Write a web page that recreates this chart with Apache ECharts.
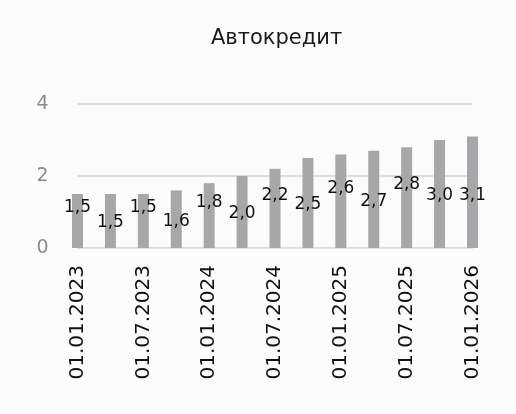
<!DOCTYPE html>
<html style="height: 100%">
<head>
    <meta charset="utf-8">
    <title>Автокредит</title>
    <script src="https://cdn.jsdelivr.net/npm/echarts@6/dist/echarts.min.js"></script>
    <style>
        html, body { margin: 0; height: 100%; background: #fcfcfc; }
        #chart { width: 516px; height: 414px; }
    </style>
</head>
<body>
<div id="chart"></div>
<script>
    var dates = ['01.01.2023', '01.04.2023', '01.07.2023', '01.10.2023', '01.01.2024', '01.04.2024',
        '01.07.2024', '01.10.2024', '01.01.2025', '01.04.2025', '01.07.2025', '01.10.2025', '01.01.2026'];
    var values = [1.5, 1.5, 1.5, 1.6, 1.8, 2.0, 2.2, 2.5, 2.6, 2.7, 2.8, 3.0, 3.1];

    var font = 'DejaVu Sans';
    var chart = echarts.init(document.getElementById('chart'));

    // подписи чередуются: чётные чуть выше середины столбца, последняя - по центру
    var barData = values.map(function (v, i) {
        var dy = i % 2 === 0 ? -13 : 2;
        if (i === values.length - 1) dy = 3;
        return { value: v, label: { offset: [0, dy] } };
    });

    chart.setOption({
        backgroundColor: '#fcfcfc',
        title: {
            text: 'Автокредит',
            left: 211,
            top: 28,
            padding: 0,
            textStyle: { color: '#1a1a1a', fontSize: 21, fontWeight: 'normal', fontFamily: font }
        },
        grid: { left: 77.5, right: 43.5, top: 104, bottom: 166 },
        xAxis: {
            type: 'category',
            data: dates,
            boundaryGap: false,
            axisLine: { show: true, lineStyle: { color: '#e2e2e2', width: 1 } },
            axisTick: { show: false },
            axisLabel: {
                interval: 1,
                rotate: 90,
                margin: 17,
                color: '#111',
                fontSize: 20,
                fontFamily: font
            }
        },
        yAxis: {
            type: 'value',
            min: 0,
            max: 4,
            interval: 2,
            axisLine: { show: false },
            axisTick: { show: false },
            axisLabel: { color: '#8c8c8c', fontSize: 19, margin: 29, fontFamily: font },
            splitLine: { lineStyle: { color: '#d4d4d4', width: 1.5 } }
        },
        series: [{
            type: 'bar',
            data: barData,
            barWidth: 11,
            itemStyle: { color: '#a7a7a9' },
            label: {
                show: true,
                position: 'inside',
                color: '#111',
                fontSize: 17,
                fontFamily: font,
                formatter: function (p) { return p.value.toFixed(1).replace('.', ','); }
            },
            animation: false
        }]
    });
</script>
</body>
</html>
